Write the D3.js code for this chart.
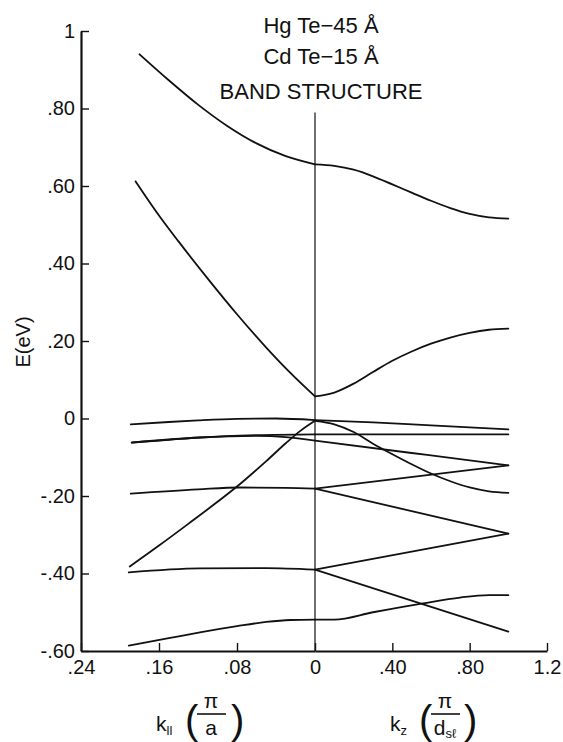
<!DOCTYPE html>
<html>
<head>
<meta charset="utf-8">
<script src="https://cdn.jsdelivr.net/npm/d3@7"></script>
<style>
  body { margin: 0; background: #fff; }
  svg text { font-family: "Liberation Sans", Arial, sans-serif; fill: #111; }
</style>
</head>
<body>
<svg id="chart" width="563" height="742"></svg>
<script>
// tick values and labels
const eTicks = [1, 0.8, 0.6, 0.4, 0.2, 0, -0.2, -0.4, -0.6];
const eLabels = ['1', '.80', '.60', '.40', '.20', '0', '-.20', '-.40', '-.60'];
const kParTicks = [0.24, 0.16, 0.08, 0];
const kParLabels = ['.24', '.16', '.08', '0'];
const kzTicks = [0.4, 0.8, 1.2];
const kzLabels = ['.40', '.80', '1.2'];
const titleLines = ['Hg Te\u221245 \u00c5', 'Cd Te\u221215 \u00c5', 'BAND STRUCTURE'];

// bands along k_parallel: [k, E]
const condA_par = [[0.18, 0.94], [0.15, 0.873], [0.12, 0.81], [0.09, 0.755], [0.06, 0.71], [0.03, 0.677], [0, 0.656]];
const condB_par = [[0.184, 0.612], [0.16, 0.524], [0.14, 0.457], [0.11, 0.361], [0.08, 0.269], [0.05, 0.183], [0.025, 0.117], [0, 0.057]];
const val1_par = [[0.189, -0.015], [0.15, -0.009], [0.12, -0.005], [0.08, -0.001], [0.04, 0], [0, -0.004]];
const light_par = [[0.19, -0.382], [0.16, -0.328], [0.13, -0.272], [0.1, -0.215], [0.075, -0.165], [0.05, -0.11], [0.03, -0.064], [0.015, -0.032], [0, -0.006]];
const val2a_par = [[0.188, -0.062], [0.15, -0.055], [0.118, -0.049], [0.06, -0.043], [0, -0.041]];
const val2b_par = [[0.188, -0.062], [0.118, -0.049], [0.06, -0.045], [0.03, -0.048], [0, -0.057]];
const val3_par = [[0.189, -0.194], [0.12, -0.183], [0.077, -0.178], [0.03, -0.179], [0, -0.181]];
const val4_par = [[0.191, -0.397], [0.118, -0.387], [0.05, -0.386], [0, -0.39]];
const val5_par = [[0.191, -0.586], [0.15, -0.567], [0.118, -0.552], [0.08, -0.536], [0.05, -0.525], [0.025, -0.52], [0, -0.519]];

// bands along k_z: [kz, E]
const condA_z = [[0, 0.656], [0.1, 0.652], [0.2, 0.642], [0.3, 0.625], [0.4, 0.604], [0.5, 0.583], [0.6, 0.562], [0.7, 0.543], [0.8, 0.528], [0.9, 0.519], [1.0, 0.516]];
const condB_z = [[0, 0.057], [0.1, 0.067], [0.2, 0.09], [0.3, 0.12], [0.4, 0.149], [0.5, 0.173], [0.6, 0.193], [0.7, 0.209], [0.8, 0.221], [0.9, 0.229], [1.0, 0.232]];
const val1_z = [[0, -0.004], [0.3, -0.01], [0.6, -0.018], [1.0, -0.028]];
const light_z = [[0, -0.006], [0.1, -0.015], [0.2, -0.035], [0.3, -0.065], [0.4, -0.092], [0.5, -0.118], [0.6, -0.142], [0.7, -0.162], [0.8, -0.178], [0.9, -0.188], [1.0, -0.192]];
const val2a_z = [[0, -0.041], [1.0, -0.041]];
const val2b_z = [[0, -0.057], [0.5, -0.089], [1.0, -0.121]];
const val3up_z = [[0, -0.181], [1.0, -0.121]];
const val3dn_z = [[0, -0.181], [1.0, -0.297]];
const val4up_z = [[0, -0.39], [1.0, -0.297]];
const val4dn_z = [[0, -0.39], [1.0, -0.55]];
const val5_z = [[0, -0.519], [0.1, -0.519], [0.3, -0.5], [0.559, -0.477], [0.75, -0.462], [0.9, -0.456], [1.0, -0.456]];

const parBands = [condA_par, condB_par, val1_par, light_par, val2a_par, val2b_par, val3_par, val4_par, val5_par];
const zBands = [condA_z, condB_z, val1_z, light_z, val2a_z, val2b_z, val3up_z, val3dn_z, val4up_z, val4dn_z, val5_z];

const svg = d3.select('#chart');

const xPar = d3.scaleLinear().domain([0.24, 0]).range([81, 315]);
const xZ = d3.scaleLinear().domain([0, 1.2]).range([315, 547]);
const y = d3.scaleLinear().domain([-0.6, 1]).range([651, 31]);

// axes
const styleAxis = g => {
    g.select('.domain').attr('stroke', '#111').attr('stroke-width', 2.2);
    g.selectAll('.tick line').attr('stroke', '#111').attr('stroke-width', 1.4);
    g.selectAll('.tick text').attr('font-size', 20).attr('fill', '#111');
};

svg.append('g')
    .attr('transform', 'translate(0,651)')
    .call(d3.axisBottom(xPar).tickValues(kParTicks).tickFormat((d, i) => kParLabels[i])
        .tickSizeInner(-8).tickSizeOuter(0).tickPadding(9))
    .call(styleAxis);

svg.append('g')
    .attr('transform', 'translate(0,651)')
    .call(d3.axisBottom(xZ).tickValues(kzTicks).tickFormat((d, i) => kzLabels[i])
        .tickSizeInner(-8).tickSizeOuter(0).tickPadding(9))
    .call(styleAxis);

svg.append('g')
    .attr('transform', 'translate(81,0)')
    .call(d3.axisLeft(y).tickValues(eTicks).tickFormat((d, i) => eLabels[i])
        .tickSizeInner(-8).tickSizeOuter(0).tickPadding(6))
    .call(styleAxis);

// divider at k = 0
svg.append('line')
    .attr('x1', xZ(0)).attr('x2', xZ(0))
    .attr('y1', y(0.79)).attr('y2', y(-0.6))
    .attr('stroke', '#111').attr('stroke-width', 1.2);

// bands
const linePar = d3.line().curve(d3.curveMonotoneX).x(d => xPar(d[0])).y(d => y(d[1]));
const lineZ = d3.line().curve(d3.curveMonotoneX).x(d => xZ(d[0])).y(d => y(d[1]));

const bands = svg.append('g')
    .attr('fill', 'none')
    .attr('stroke', '#111')
    .attr('stroke-width', 1.8)
    .attr('stroke-linejoin', 'round')
    .attr('stroke-linecap', 'round');

bands.selectAll('path.par')
    .data(parBands)
    .join('path')
        .attr('class', 'par')
        .attr('d', linePar);

bands.selectAll('path.kz')
    .data(zBands)
    .join('path')
        .attr('class', 'kz')
        .attr('d', lineZ);

// title
svg.append('g')
    .selectAll('text')
    .data(titleLines)
    .join('text')
        .attr('x', 321)
        .attr('y', (d, i) => [33, 64, 99][i])
        .attr('text-anchor', 'middle')
        .attr('font-size', 22)
        .text(d => d);

// y label
svg.append('text')
    .attr('transform', 'translate(30,342) rotate(-90)')
    .attr('text-anchor', 'middle')
    .attr('font-size', 20)
    .text('E(eV)');

// x labels: k_par (pi / a) and k_z (pi / d_sl)
const kLabel = (x0, sub, den, denSub, close) => {
    const g = svg.append('g').attr('font-size', 21);
    const t = g.append('text').attr('x', x0).attr('y', 731);
    t.append('tspan').text('k');
    t.append('tspan').attr('font-size', 13).attr('dy', 4).text(sub);
    g.append('text').attr('x', x0 + 29).attr('y', 734).attr('font-size', 40)
        .attr('font-weight', 300).text('(');
    g.append('text').attr('x', x0 + 55).attr('y', 708).attr('text-anchor', 'middle').text('\u03c0');
    g.append('line').attr('x1', x0 + 41).attr('x2', x0 + 70).attr('y1', 714).attr('y2', 714)
        .attr('stroke', '#111').attr('stroke-width', 1.6);
    const d = g.append('text').attr('x', x0 + 55).attr('y', 735).attr('text-anchor', 'middle');
    d.append('tspan').text(den);
    if (denSub) d.append('tspan').attr('font-size', 13).attr('dy', 3).text(denSub);
    g.append('text').attr('x', x0 + close).attr('y', 734).attr('font-size', 40).text(')');
};
kLabel(156, 'll', 'a', null, 75);
kLabel(390, 'z', 'd', 's\u2113', 74);
</script>
</body>
</html>
